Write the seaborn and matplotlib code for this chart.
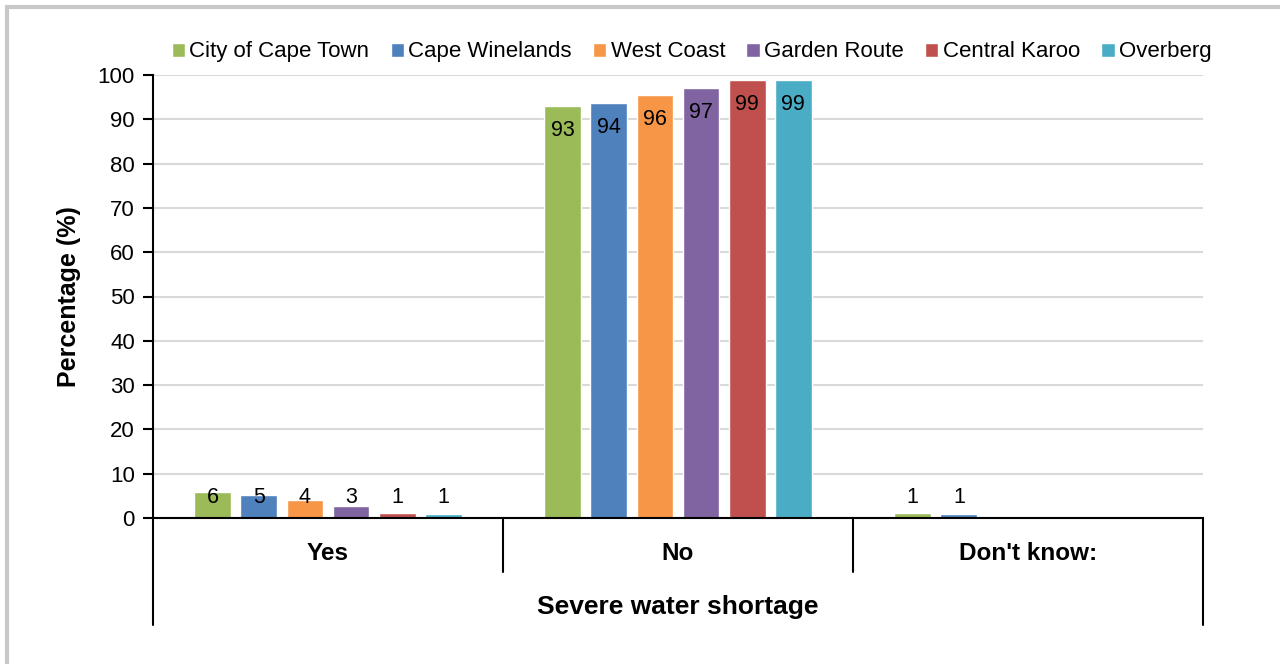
"""Severe water shortage by district, grouped bar chart."""

import matplotlib
matplotlib.use("Agg")
import matplotlib.pyplot as plt
import numpy as np
import pandas as pd
import seaborn as sns
from matplotlib.patches import Rectangle

categories = ["Yes", "No", "Don't know:"]
districts = ["City of Cape Town", "Cape Winelands", "West Coast",
             "Garden Route", "Central Karoo", "Overberg"]
colors = ["#9BBB59", "#4F81BD", "#F79646", "#8064A2", "#C0504D", "#4BACC6"]

yes_vals = [5.9, 5.3, 4.1, 2.7, 1.1, 0.9]
no_vals = [93.0, 93.7, 95.5, 97.1, 98.9, 98.9]
dont_know_vals = [1.1, 0.9, 0.0, 0.0, 0.0, 0.0]

rows = []
for cat, vals in zip(categories, [yes_vals, no_vals, dont_know_vals]):
    for d, v in zip(districts, vals):
        rows.append({"answer": cat, "district": d, "value": v})
df = pd.DataFrame(rows)

sns.set_style("white")
plt.rcParams["font.family"] = ["Liberation Sans", "DejaVu Sans"]
plt.rcParams.update({"text.color": "black", "axes.labelcolor": "black",
                     "xtick.color": "black", "ytick.color": "black"})

fig = plt.figure(figsize=(12.8, 6.64), dpi=100)
ax = fig.add_axes([153 / 1280, 146 / 664, 1050 / 1280, 443 / 664])

sns.barplot(data=df, x="answer", y="value", hue="district", order=categories,
            hue_order=districts, palette=colors, width=0.79, gap=0.2,
            errorbar=None, ax=ax, saturation=1)

# labels: inside end for tall bars, just above axis for short ones
for container in ax.containers:
    for bar in container:
        h = bar.get_height()
        if h <= 0:
            continue
        ax.text(bar.get_x() + bar.get_width() / 2, max(h - 5.6, 4.7), f"{h:.0f}",
                ha="center", va="center", fontsize=15.5, color="black")

ax.set_xlim(-0.5, 2.5)
ax.set_ylim(0, 100)
ax.set_yticks(np.arange(0, 101, 10))
ax.yaxis.grid(True, color="#d9d9d9", linewidth=1.5)
ax.set_axisbelow(True)
ax.tick_params(axis="y", labelsize=16, length=7, width=1.5, color="black",
               direction="out", pad=6, left=True)
ax.tick_params(axis="x", length=0, labelsize=17.5, pad=17)
for lab in ax.get_xticklabels():
    lab.set_fontweight("bold")
for s in ["top", "right"]:
    ax.spines[s].set_visible(False)
for s in ["left", "bottom"]:
    ax.spines[s].set_color("black")
    ax.spines[s].set_linewidth(1.5)

ax.set_ylabel("Percentage (%)", fontsize=18, fontweight="bold", labelpad=12)
ax.set_xlabel("Severe water shortage", fontsize=19, fontweight="bold", labelpad=22)

# category separators below the axis
trans = ax.get_xaxis_transform()
for xpos, ybot in [(-0.5, -0.2415), (0.5, -0.122), (1.5, -0.122), (2.5, -0.2415)]:
    ax.plot([xpos, xpos], [0, ybot], color="black", linewidth=1.5,
            transform=trans, clip_on=False)

leg = ax.legend(loc="center", bbox_to_anchor=(0.513, 1.052), ncol=6, frameon=False,
                fontsize=16, handlelength=0.6, handleheight=0.6,
                handletextpad=0.2, columnspacing=0.95, borderaxespad=0)

fig.patches.append(Rectangle((7 / 1280, -0.1), 1.2, 1 - 7 / 664 + 0.1,
                             transform=fig.transFigure, fill=False,
                             edgecolor="#c8c8c8", linewidth=3))

fig.savefig("out.png", dpi=100)
plt.close(fig)
